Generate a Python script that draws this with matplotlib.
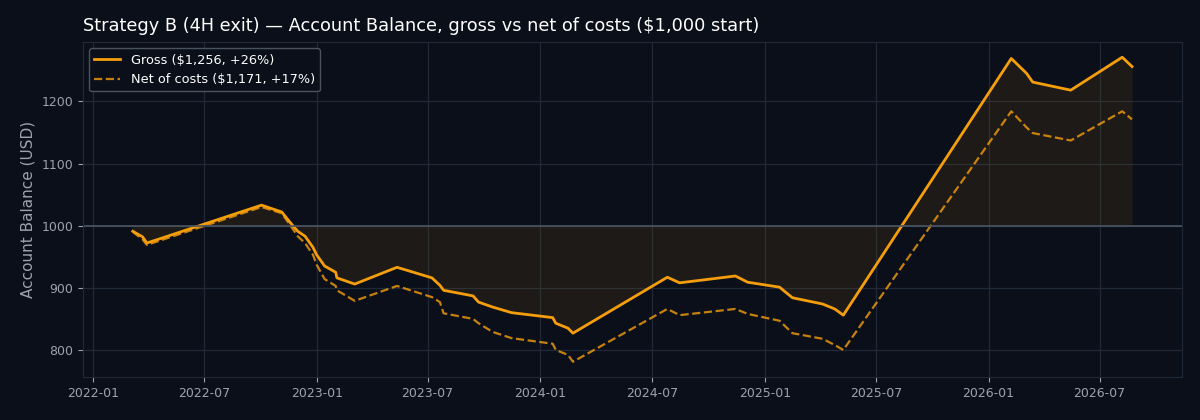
import pandas as pd
import matplotlib
matplotlib.use('Agg')
import matplotlib.pyplot as plt

# trade close dates and balances
dates = ['2022-03-07', '2022-03-23', '2022-03-30', '2022-10-03', '2022-11-05',
         '2022-11-18', '2022-12-01', '2022-12-13', '2022-12-26', '2023-01-01',
         '2023-01-14', '2023-02-01', '2023-02-03', '2023-03-04', '2023-05-12',
         '2023-07-08', '2023-07-21', '2023-07-27', '2023-09-13', '2023-09-22',
         '2023-10-15', '2023-11-15', '2024-01-21', '2024-01-26', '2024-02-15',
         '2024-02-23', '2024-07-26', '2024-08-15', '2024-11-14', '2024-12-04',
         '2025-01-25', '2025-02-15', '2025-04-05', '2025-04-25', '2025-05-09',
         '2026-02-07', '2026-03-04', '2026-03-14', '2026-05-15', '2026-08-07',
         '2026-08-23']
gross = [991, 982, 972, 1033, 1022,
         1006, 991, 983, 965, 953,
         935, 925, 916, 906, 933,
         916, 904, 896, 887, 877,
         869, 860, 852, 843, 835,
         827, 917, 908, 919, 909,
         901, 884, 874, 866, 856,
         1269, 1245, 1231, 1218, 1271,
         1256]
net = [990, 978, 969, 1030, 1020,
       1002, 983, 972, 953, 937,
       914, 903, 896, 879, 903,
       885, 877, 859, 850, 843,
       829, 819, 810, 800, 792,
       781, 866, 856, 866, 858,
       847, 827, 818, 808, 800,
       1184, 1158, 1149, 1137, 1184,
       1171]
start = 1000

df = pd.DataFrame({'date': pd.to_datetime(dates), 'gross': gross, 'net': net})

bg = '#0b0f19'
amber = '#f59e0b'
muted = '#9ca3af'
gridc = '#1f2937'

fig = plt.figure(figsize=(12, 4.2), dpi=100, facecolor=bg)
ax = fig.add_axes([0.069, 0.1024, 0.916, 0.7976])
ax.set_facecolor(bg)

g_end, n_end = gross[-1], net[-1]
ax.plot(df['date'], df['gross'], color=amber, lw=2,
        label='Gross (${:,}, {:+.0f}%)'.format(g_end, (g_end / start - 1) * 100))
ax.plot(df['date'], df['net'], color=amber, lw=1.6, ls='--', alpha=0.8,
        label='Net of costs (${:,}, {:+.0f}%)'.format(n_end, (n_end / start - 1) * 100))
ax.fill_between(df['date'], df['gross'], start, color=amber, alpha=0.08, lw=0)
ax.axhline(start, color='#4b5563', lw=1.2)

ax.grid(True, color=gridc, lw=0.9)
ax.set_axisbelow(True)
for s in ax.spines.values():
    s.set_color(gridc)
ax.tick_params(colors=muted, labelsize=9)
ax.set_ylabel('Account Balance (USD)', color=muted, fontsize=11)
ax.set_title('Strategy B (4H exit) \u2014 Account Balance, gross vs net of costs ($1,000 start)',
             color='white', fontsize=12.8, loc='left', pad=8)

leg = ax.legend(loc='upper left', fontsize=9.3, facecolor=bg, edgecolor='#525a66',
                labelcolor='white', framealpha=0.9)

plt.savefig('out.png', dpi=100, facecolor=bg)
